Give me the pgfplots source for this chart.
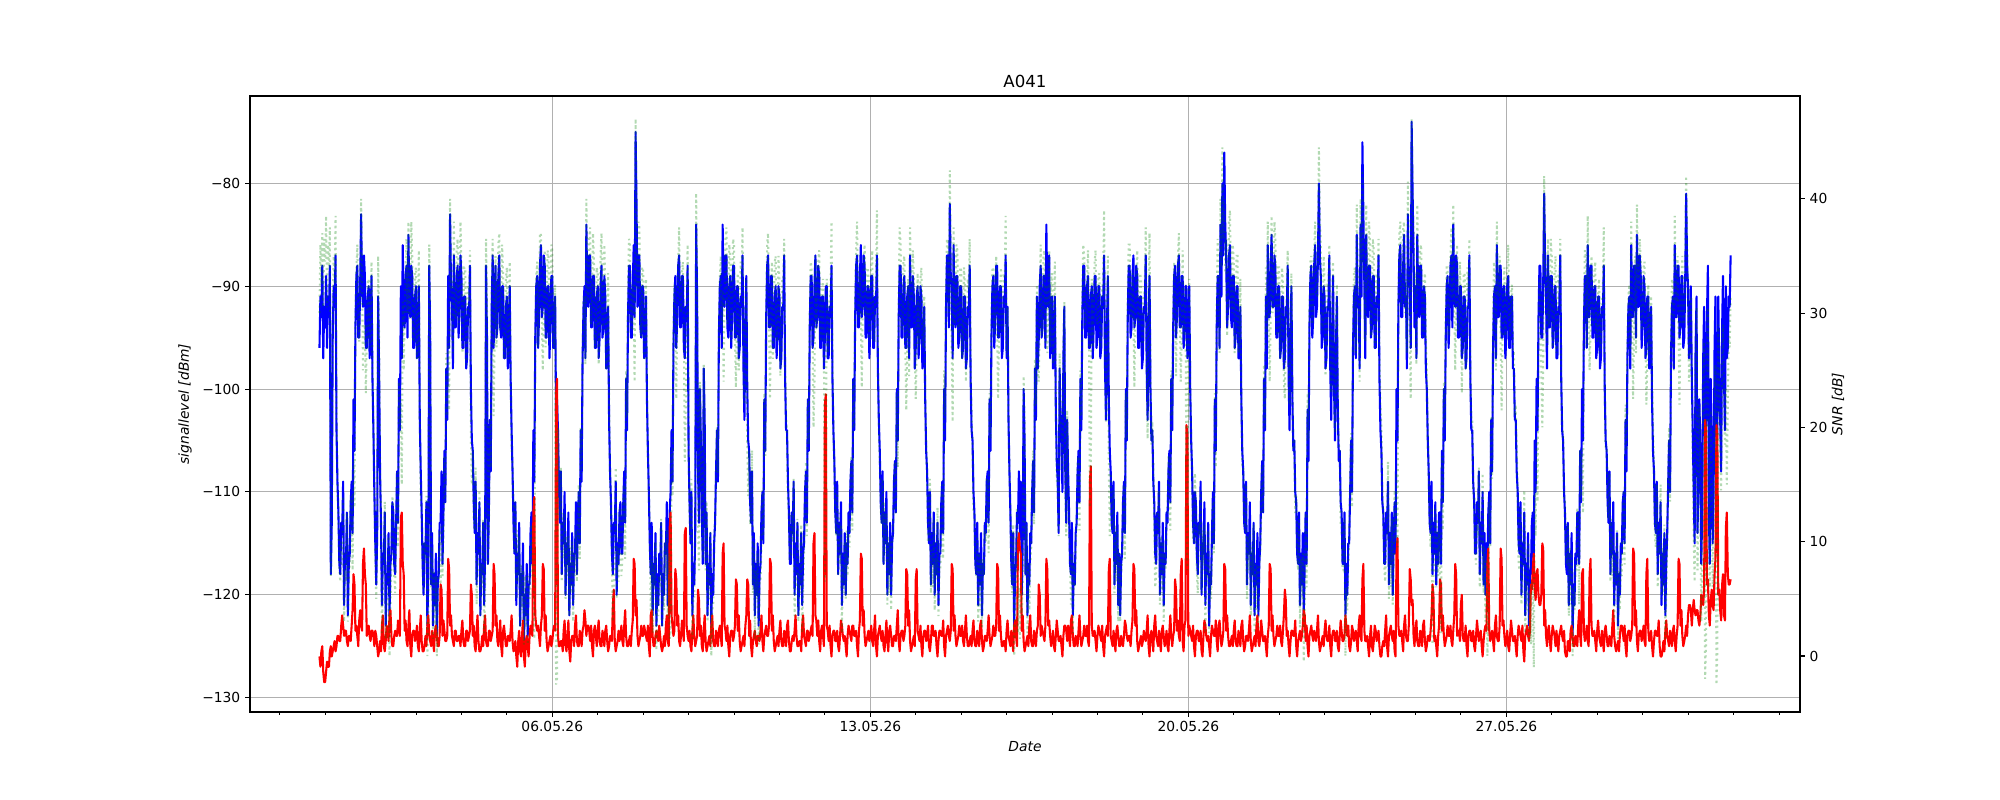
\documentclass[border=0pt]{standalone}
\usepackage{fontspec}
\setmainfont{DejaVu Sans}
\usepackage{pgfplots}
\usepackage{pgfplotstable}
\pgfplotsset{compat=1.18}
\definecolor{mplgrid}{HTML}{B0B0B0}
\definecolor{mplgreen}{rgb}{0,0.5,0}

% half-hourly samples (pairs of local extremes per hour), first sample at 0.875 (day of May); one line per day
\pgfplotstableread[row sep=\\,header=false]{
-96\\-91\\-93\\-88\\-97\\-92\\
-94\\-89\\-96\\-91\\-93\\-88\\-118\\-113\\-95\\-90\\-92\\-87\\-104\\-109\\-112\\-117\\-118\\-113\\-114\\-109\\-121\\-116\\-117\\-112\\-122\\-117\\-116\\-111\\-109\\-114\\-101\\-106\\-94\\-89\\-88\\-95\\-95\\-90\\-83\\-90\\-92\\-87\\-89\\-96\\-96\\-91\\-90\\-97\\
-94\\-89\\-99\\-104\\-110\\-115\\-119\\-114\\-91\\-98\\-108\\-113\\-121\\-116\\-117\\-112\\-123\\-118\\-119\\-114\\-122\\-117\\-116\\-111\\-112\\-117\\-118\\-113\\-108\\-113\\-99\\-104\\-90\\-97\\-86\\-93\\-94\\-89\\-88\\-95\\-85\\-92\\-93\\-88\\-89\\-96\\-96\\-91\\
-90\\-97\\-95\\-90\\-103\\-108\\-112\\-117\\-120\\-115\\-116\\-111\\-123\\-118\\-88\\-95\\-119\\-114\\-123\\-118\\-121\\-116\\-124\\-119\\-118\\-113\\-113\\-108\\-117\\-112\\-106\\-111\\-98\\-103\\-89\\-96\\-83\\-90\\-91\\-98\\-87\\-94\\-94\\-89\\-88\\-95\\-92\\-87\\
-89\\-96\\-96\\-91\\-91\\-98\\-97\\-92\\-93\\-88\\-100\\-105\\-106\\-111\\-114\\-109\\-119\\-114\\-116\\-111\\-122\\-117\\-118\\-113\\-121\\-116\\-88\\-95\\-117\\-112\\-103\\-108\\-92\\-87\\-96\\-91\\-88\\-95\\-94\\-89\\-87\\-94\\-95\\-90\\-90\\-97\\-97\\-92\\
-91\\-98\\-95\\-90\\-99\\-104\\-108\\-113\\-116\\-111\\-121\\-116\\-118\\-113\\-123\\-118\\-120\\-115\\-125\\-120\\-122\\-117\\-124\\-119\\-119\\-114\\-112\\-117\\-104\\-109\\-95\\-90\\-89\\-96\\-93\\-88\\-86\\-93\\-92\\-87\\-88\\-95\\-95\\-90\\-90\\-97\\-94\\-89\\
-89\\-96\\-96\\-91\\-103\\-101\\-104\\-109\\-113\\-108\\-118\\-113\\-115\\-110\\-120\\-115\\-117\\-112\\-122\\-117\\-119\\-114\\-121\\-116\\-116\\-111\\-118\\-113\\-110\\-115\\-104\\-109\\-97\\-92\\-90\\-97\\-84\\-91\\-92\\-87\\-87\\-94\\-94\\-89\\-89\\-96\\-96\\-91\\
-90\\-97\\-95\\-90\\-88\\-95\\-94\\-89\\-91\\-98\\-97\\-92\\-103\\-108\\-111\\-116\\-118\\-113\\-114\\-109\\-120\\-115\\-117\\-112\\-111\\-116\\-116\\-111\\-108\\-113\\-99\\-104\\-93\\-88\\-88\\-95\\-95\\-90\\-86\\-93\\-75\\-82\\-92\\-87\\-87\\-94\\-95\\-90\\
-90\\-97\\-96\\-91\\-101\\-106\\-110\\-115\\-118\\-113\\-122\\-117\\-119\\-114\\-123\\-118\\-121\\-116\\-118\\-113\\-123\\-118\\-120\\-115\\-116\\-111\\-121\\-116\\-112\\-110\\-104\\-109\\-96\\-91\\-89\\-96\\-93\\-88\\-87\\-94\\-94\\-89\\-89\\-96\\-97\\-92\\-93\\-88\\
-106\\-111\\-115\\-110\\-122\\-117\\-119\\-114\\-84\\-91\\-108\\-113\\-100\\-105\\-112\\-117\\-98\\-103\\-117\\-112\\-122\\-117\\-119\\-114\\-123\\-118\\-120\\-115\\-113\\-108\\-104\\-109\\-95\\-90\\-89\\-96\\-84\\-91\\-92\\-87\\-87\\-94\\-95\\-90\\-89\\-96\\-93\\-88\\
-88\\-95\\-95\\-90\\-90\\-97\\-96\\-91\\-92\\-87\\-98\\-103\\-94\\-89\\-100\\-105\\-106\\-111\\-113\\-108\\-119\\-114\\-122\\-117\\-120\\-115\\-123\\-118\\-117\\-112\\-110\\-115\\-101\\-106\\-93\\-88\\-87\\-94\\-94\\-89\\-89\\-96\\-96\\-91\\-90\\-97\\-95\\-90\\
-91\\-98\\-97\\-92\\-92\\-87\\-99\\-104\\-104\\-109\\-112\\-117\\-117\\-112\\-114\\-109\\-120\\-115\\-118\\-113\\-122\\-117\\-119\\-114\\-121\\-116\\-115\\-110\\-108\\-113\\-101\\-106\\-94\\-89\\-89\\-96\\-95\\-90\\-87\\-94\\-93\\-88\\-89\\-96\\-96\\-91\\-91\\-98\\
-95\\-90\\-90\\-97\\-97\\-92\\-93\\-88\\-99\\-104\\-107\\-112\\-114\\-109\\-118\\-113\\-116\\-111\\-121\\-116\\-119\\-114\\-120\\-115\\-117\\-112\\-114\\-109\\-107\\-112\\-99\\-104\\-93\\-88\\-87\\-94\\-94\\-89\\-86\\-93\\-92\\-87\\-88\\-95\\-95\\-90\\-90\\-97\\
-94\\-89\\-89\\-96\\-96\\-91\\-92\\-87\\-98\\-103\\-106\\-111\\-113\\-108\\-117\\-112\\-115\\-110\\-120\\-115\\-118\\-113\\-120\\-115\\-114\\-109\\-107\\-112\\-100\\-105\\-93\\-88\\-88\\-95\\-95\\-90\\-89\\-96\\-96\\-91\\-90\\-97\\-87\\-94\\-94\\-89\\-91\\-98\\
-96\\-91\\-90\\-97\\-95\\-90\\-91\\-98\\-97\\-92\\-101\\-106\\-108\\-113\\-115\\-110\\-119\\-114\\-117\\-112\\-120\\-115\\-118\\-113\\-121\\-116\\-116\\-111\\-109\\-114\\-100\\-105\\-92\\-87\\-87\\-94\\-82\\-89\\-90\\-97\\-86\\-93\\-94\\-89\\-89\\-96\\-95\\-90\\
-90\\-97\\-96\\-91\\-91\\-98\\-97\\-92\\-93\\-88\\-99\\-104\\-105\\-110\\-112\\-117\\-118\\-113\\-121\\-116\\-119\\-114\\-122\\-117\\-118\\-113\\-114\\-109\\-108\\-113\\-101\\-106\\-95\\-90\\-89\\-96\\-93\\-88\\-88\\-95\\-95\\-90\\-90\\-97\\-96\\-91\\-92\\-87\\
-97\\-92\\-103\\-108\\-112\\-117\\-119\\-114\\-123\\-118\\-117\\-112\\-113\\-108\\-114\\-109\\-120\\-115\\-100\\-105\\-118\\-113\\-122\\-117\\-119\\-114\\-115\\-110\\-107\\-112\\-98\\-103\\-91\\-98\\-95\\-90\\-88\\-95\\-94\\-89\\-89\\-96\\-84\\-91\\-92\\-87\\-97\\-92\\
-91\\-98\\-96\\-91\\-102\\-107\\-109\\-114\\-98\\-103\\-105\\-110\\-97\\-92\\-108\\-113\\-103\\-108\\-112\\-117\\-118\\-113\\-122\\-117\\-119\\-114\\-113\\-108\\-106\\-111\\-99\\-104\\-93\\-88\\-88\\-95\\-95\\-90\\-89\\-96\\-96\\-91\\-90\\-97\\-94\\-89\\-89\\-96\\
-95\\-90\\-90\\-97\\-96\\-91\\-92\\-87\\-98\\-103\\-94\\-89\\-101\\-106\\-108\\-113\\-114\\-109\\-119\\-114\\-117\\-112\\-121\\-116\\-122\\-117\\-116\\-111\\-109\\-114\\-100\\-105\\-93\\-88\\-88\\-95\\-94\\-89\\-87\\-94\\-93\\-88\\-89\\-96\\-96\\-91\\-91\\-98\\
-97\\-92\\-92\\-87\\-98\\-103\\-94\\-89\\-100\\-105\\-104\\-109\\-111\\-116\\-117\\-112\\-114\\-109\\-120\\-115\\-118\\-113\\-121\\-116\\-117\\-112\\-113\\-108\\-106\\-111\\-99\\-104\\-94\\-89\\-88\\-95\\-93\\-88\\-87\\-94\\-94\\-89\\-89\\-96\\-95\\-90\\-90\\-97\\
-95\\-90\\-100\\-105\\-108\\-113\\-115\\-110\\-111\\-116\\-118\\-113\\-114\\-109\\-120\\-115\\-116\\-111\\-121\\-116\\-118\\-113\\-123\\-118\\-119\\-114\\-110\\-115\\-101\\-106\\-94\\-89\\-89\\-96\\-84\\-91\\-80\\-87\\-77\\-84\\-87\\-94\\-92\\-87\\-86\\-93\\-94\\-89\\
-89\\-96\\-95\\-90\\-90\\-97\\-97\\-92\\-101\\-106\\-108\\-113\\-114\\-109\\-119\\-114\\-116\\-111\\-121\\-116\\-118\\-113\\-122\\-117\\-119\\-114\\-122\\-117\\-115\\-110\\-107\\-112\\-99\\-104\\-91\\-98\\-86\\-93\\-93\\-88\\-85\\-92\\-92\\-87\\-88\\-95\\-95\\-90\\
-90\\-97\\-96\\-91\\-91\\-98\\-97\\-92\\-93\\-88\\-99\\-104\\-95\\-90\\-101\\-106\\-105\\-110\\-111\\-116\\-117\\-112\\-121\\-116\\-119\\-114\\-122\\-117\\-112\\-117\\-102\\-107\\-94\\-89\\-88\\-95\\-93\\-88\\-86\\-93\\-92\\-87\\-80\\-87\\-89\\-96\\-95\\-90\\
-91\\-98\\-97\\-92\\-92\\-87\\-98\\-103\\-94\\-89\\-100\\-105\\-96\\-91\\-102\\-107\\-106\\-111\\-112\\-117\\-117\\-112\\-122\\-117\\-120\\-115\\-115\\-110\\-105\\-110\\-96\\-91\\-90\\-97\\-85\\-92\\-91\\-98\\-84\\-91\\-76\\-83\\-90\\-97\\-85\\-92\\-93\\-88\\
-88\\-95\\-94\\-89\\-89\\-96\\-96\\-91\\-92\\-87\\-99\\-104\\-106\\-111\\-112\\-117\\-117\\-112\\-114\\-109\\-119\\-114\\-117\\-112\\-120\\-115\\-111\\-116\\-100\\-105\\-92\\-87\\-86\\-93\\-93\\-88\\-85\\-92\\-91\\-98\\-83\\-90\\-89\\-96\\-74\\-81\\-87\\-94\\
-90\\-97\\-85\\-92\\-93\\-88\\-88\\-95\\-95\\-90\\-91\\-98\\-100\\-105\\-108\\-113\\-114\\-109\\-118\\-113\\-116\\-111\\-119\\-114\\-117\\-112\\-112\\-117\\-106\\-111\\-100\\-105\\-95\\-90\\-89\\-96\\-93\\-88\\-87\\-94\\-84\\-91\\-92\\-87\\-88\\-95\\-95\\-90\\
-90\\-97\\-96\\-91\\-91\\-98\\-97\\-92\\-92\\-87\\-99\\-104\\-104\\-109\\-111\\-116\\-116\\-111\\-113\\-108\\-118\\-113\\-115\\-110\\-119\\-114\\-120\\-115\\-117\\-112\\-110\\-115\\-103\\-108\\-96\\-91\\-90\\-97\\-86\\-93\\-93\\-88\\-88\\-95\\-95\\-90\\-90\\-97\\
-95\\-90\\-89\\-96\\-96\\-91\\-91\\-98\\-98\\-103\\-103\\-108\\-110\\-115\\-116\\-111\\-120\\-115\\-117\\-112\\-122\\-117\\-119\\-114\\-123\\-118\\-118\\-113\\-112\\-117\\-105\\-110\\-99\\-104\\-93\\-88\\-88\\-95\\-95\\-90\\-81\\-88\\-91\\-98\\-87\\-94\\-94\\-89\\
-89\\-96\\-95\\-90\\-90\\-97\\-97\\-92\\-92\\-87\\-99\\-104\\-105\\-110\\-112\\-117\\-118\\-113\\-121\\-116\\-119\\-114\\-124\\-119\\-121\\-116\\-117\\-112\\-112\\-117\\-106\\-111\\-100\\-105\\-94\\-89\\-89\\-96\\-86\\-93\\-93\\-88\\-88\\-95\\-95\\-90\\-90\\-97\\
-96\\-91\\-91\\-98\\-97\\-92\\-93\\-88\\-100\\-105\\-106\\-111\\-113\\-108\\-118\\-113\\-116\\-111\\-121\\-116\\-119\\-114\\-123\\-118\\-120\\-115\\-116\\-111\\-110\\-115\\-103\\-108\\-97\\-92\\-91\\-98\\-86\\-93\\-93\\-88\\-88\\-95\\-85\\-92\\-92\\-87\\-89\\-96\\
-94\\-89\\-90\\-97\\-96\\-91\\-91\\-98\\-97\\-92\\-101\\-106\\-108\\-113\\-114\\-109\\-118\\-113\\-116\\-111\\-121\\-116\\-119\\-114\\-122\\-117\\-114\\-109\\-105\\-110\\-97\\-92\\-91\\-98\\-86\\-93\\-93\\-88\\-88\\-95\\-94\\-89\\-89\\-96\\-95\\-90\\-81\\-88\\
-90\\-97\\-95\\-90\\-99\\-104\\-110\\-115\\-96\\-91\\-114\\-109\\-101\\-106\\-117\\-112\\-97\\-92\\-105\\-103\\-93\\-88\\-112\\-117\\-99\\-104\\-115\\-110\\-96\\-91\\-106\\-104\\-91\\-98\\-103\\-108\\-94\\-89\\-99\\-104\\-90\\-97\\-96\\-91\\-92\\-87\\
}\sig

\pgfplotstableread[row sep=\\,header=false]{
-126\\-127\\-125.5\\-125\\-127.5\\-128.5\\
-128.5\\-127.5\\-126.5\\-127\\-127\\-125.5\\-125\\-126\\-125.5\\-125\\-124.5\\-125.5\\-125\\-124\\-124\\-124.5\\-124.5\\-123\\-122\\-123\\-124\\-123.5\\-123.5\\-124.5\\-125\\-124\\-124\\-124.5\\-123\\-121.5\\-118\\-119\\-123.5\\-123\\-124\\-125\\-122.5\\-121.5\\-123\\-123.5\\-117\\-115.5\\-118\\-119\\-124\\-123.5\\-123\\-124\\
-124.5\\-123.5\\-123.5\\-124\\-125\\-123.5\\-124\\-125\\-126\\-125.5\\-124.5\\-125.5\\-123\\-122\\-125\\-125.5\\-124.5\\-123\\-123.5\\-124.5\\-122\\-121.5\\-124\\-125\\-125\\-124\\-123.5\\-124\\-124\\-122.5\\-123\\-124\\-112.5\\-112\\-117\\-118\\-123.5\\-122.5\\-124.5\\-125\\-123\\-121.5\\-125\\-126\\-124\\-123.5\\-123.5\\-124.5\\
-124\\-123\\-125\\-125.5\\-123.5\\-122\\-124.5\\-125.5\\-125.5\\-125\\-124\\-125\\-123\\-122\\-124\\-124.5\\-125\\-123.5\\-124.5\\-125.5\\-123.5\\-123\\-124\\-125\\-125\\-124\\-119\\-119.5\\-124\\-122.5\\-123.5\\-124.5\\-124.5\\-124\\-116.5\\-117.5\\-123\\-122\\-124\\-124.5\\-125\\-123.5\\-123.5\\-124.5\\-124.5\\-124\\-124\\-125\\
-123.5\\-122.5\\-124.5\\-125\\-125\\-123.5\\-123.5\\-124.5\\-124\\-123.5\\-119\\-120\\-124\\-123\\-125\\-125.5\\-123.5\\-122\\-124.5\\-125.5\\-125.5\\-125\\-124\\-125\\-123\\-122\\-124.5\\-125\\-125\\-123.5\\-123.5\\-124.5\\-124\\-123.5\\-117\\-118\\-123\\-122\\-124.5\\-125\\-124\\-122.5\\-125\\-126\\-123.5\\-123\\-124\\-125\\
-125\\-124\\-124\\-124.5\\-123.5\\-122\\-124.5\\-125.5\\-125\\-124.5\\-126\\-127\\-124.5\\-123.5\\-125.5\\-126\\-124\\-122.5\\-126\\-127\\-124.5\\-124\\-125\\-126\\-124\\-123\\-123.5\\-124\\-112\\-110.5\\-122\\-123\\-123.5\\-123\\-124\\-125\\-123\\-122\\-117\\-117.5\\-123.5\\-122\\-124.5\\-125.5\\-125\\-124.5\\-124\\-125\\
-124.5\\-123.5\\-123\\-123.5\\-100.5\\-99\\-124\\-125\\-125\\-124.5\\-124.5\\-125.5\\-123.5\\-122.5\\-125\\-125.5\\-124\\-122.5\\-125.5\\-126.5\\-124.5\\-124\\-124\\-125\\-123\\-122\\-124.5\\-125\\-125\\-123.5\\-124\\-125\\-123.5\\-123\\-121.5\\-122.5\\-124\\-123\\-123\\-123.5\\-124.5\\-123\\-125\\-126\\-123.5\\-123\\-124\\-125\\
-123.5\\-122.5\\-124.5\\-125\\-125\\-123.5\\-124\\-125\\-123.5\\-123\\-124.5\\-125.5\\-125\\-124\\-124\\-124.5\\-121\\-119.5\\-124.5\\-125.5\\-125\\-124.5\\-123.5\\-124.5\\-124\\-123\\-124.5\\-125\\-123\\-121.5\\-124\\-125\\-125\\-124.5\\-124\\-125\\-123.5\\-122.5\\-116.5\\-117\\-122\\-120.5\\-124\\-125\\-124.5\\-124\\-123\\-124\\
-124\\-123\\-123.5\\-124\\-124.5\\-123\\-125\\-126\\-122\\-121.5\\-124\\-125\\-125\\-124\\-123.5\\-124\\-124.5\\-123\\-124\\-125\\-125.5\\-125\\-124\\-125\\-123\\-122\\-124.5\\-125\\-113.5\\-112\\-122\\-123\\-124\\-123.5\\-117.5\\-118.5\\-123\\-122\\-124.5\\-125\\-124\\-122.5\\-123.5\\-124.5\\-114\\-113.5\\-123\\-124\\
-124.5\\-123.5\\-125\\-125.5\\-123.5\\-122\\-124\\-125\\-124.5\\-124\\-119.5\\-120.5\\-124\\-123\\-125\\-125.5\\-123.5\\-122\\-124.5\\-125.5\\-125\\-124.5\\-124\\-125\\-123\\-122\\-124.5\\-125\\-125\\-123.5\\-124\\-125\\-123.5\\-123\\-124\\-125\\-116\\-115\\-123\\-123.5\\-124.5\\-123\\-125\\-126\\-124\\-123.5\\-123.5\\-124.5\\
-124\\-123\\-118.5\\-119\\-123.5\\-122\\-124.5\\-125.5\\-125\\-124.5\\-124\\-125\\-123\\-122\\-118.5\\-119\\-124\\-122.5\\-125\\-126\\-124.5\\-124\\-123.5\\-124.5\\-125\\-124\\-124\\-124.5\\-123.5\\-122\\-124.5\\-125.5\\-124\\-123.5\\-123\\-124\\-124\\-123\\-116.5\\-117\\-123.5\\-122\\-124.5\\-125.5\\-125\\-124.5\\-124\\-125\\
-123.5\\-122.5\\-124.5\\-125\\-125\\-123.5\\-124\\-125\\-123\\-122.5\\-124.5\\-125.5\\-125.5\\-124.5\\-124\\-124.5\\-123.5\\-122\\-124\\-125\\-125\\-124.5\\-124.5\\-125.5\\-123\\-122\\-124\\-124.5\\-125\\-123.5\\-123.5\\-124.5\\-124\\-123.5\\-123\\-124\\-115\\-114\\-122\\-122.5\\-124\\-122.5\\-124.5\\-125.5\\-123.5\\-123\\-124\\-125\\
-101.5\\-100.5\\-123\\-123.5\\-124.5\\-123\\-125\\-126\\-124\\-123.5\\-123.5\\-124.5\\-124.5\\-123.5\\-125\\-125.5\\-124\\-122.5\\-123\\-124\\-124.5\\-124\\-125\\-126\\-124\\-123\\-123.5\\-124\\-124.5\\-123\\-123\\-124\\-124\\-123.5\\-125\\-126\\-123.5\\-122.5\\-116\\-116.5\\-123\\-121.5\\-124\\-125\\-124.5\\-124\\-123.5\\-124.5\\
-124\\-123\\-124.5\\-125\\-123.5\\-122\\-125\\-126\\-124\\-123.5\\-123\\-124\\-124.5\\-123.5\\-125\\-125.5\\-124\\-122.5\\-124.5\\-125.5\\-123.5\\-123\\-124\\-125\\-125\\-124\\-124\\-124.5\\-123\\-121.5\\-124.5\\-125.5\\-124\\-123.5\\-123.5\\-124.5\\-124\\-123\\-117.5\\-118\\-123\\-121.5\\-124.5\\-125.5\\-125\\-124.5\\-124\\-125\\
-118.5\\-117.5\\-123.5\\-124\\-124.5\\-123\\-125\\-126\\-124\\-123.5\\-123.5\\-124.5\\-124\\-123\\-125\\-125.5\\-124.5\\-123\\-123\\-124\\-124\\-123.5\\-125\\-126\\-124.5\\-123.5\\-123.5\\-124\\-124\\-122.5\\-125\\-126\\-124\\-123.5\\-123\\-124\\-124.5\\-123.5\\-117\\-117.5\\-123.5\\-122\\-124\\-125\\-124.5\\-124\\-123\\-124\\
-124\\-123\\-124.5\\-125\\-123.5\\-122\\-124\\-125\\-125\\-124.5\\-124\\-125\\-123.5\\-122.5\\-124.5\\-125\\-125\\-123.5\\-124\\-125\\-123\\-122.5\\-124.5\\-125.5\\-125\\-124\\-124\\-124.5\\-123.5\\-122\\-124\\-125\\-124.5\\-124\\-123\\-124\\-124\\-123\\-117\\-117.5\\-123.5\\-122\\-124\\-125\\-125\\-124.5\\-124.5\\-125.5\\
-123.5\\-122.5\\-124\\-124.5\\-125\\-123.5\\-124.5\\-125.5\\-123\\-122.5\\-124\\-125\\-115\\-114\\-115.5\\-116\\-123.5\\-122\\-124.5\\-125.5\\-125\\-124.5\\-124\\-125\\-123\\-122\\-124.5\\-125\\-125\\-123.5\\-124\\-125\\-123.5\\-123\\-119\\-120\\-124\\-123\\-123.5\\-124\\-124.5\\-123\\-116.5\\-117.5\\-123\\-122.5\\-124\\-125\\
-124.5\\-123.5\\-125\\-125.5\\-124\\-122.5\\-123.5\\-124.5\\-124.5\\-124\\-125\\-126\\-124\\-123\\-123\\-123.5\\-124.5\\-123\\-124\\-125\\-122.5\\-122\\-124\\-125\\-125\\-124\\-124.5\\-125\\-123.5\\-122\\-124\\-125\\-124.5\\-124\\-123\\-124\\-124\\-123\\-124.5\\-125\\-109\\-107.5\\-123\\-124\\-124\\-123.5\\-124.5\\-125.5\\
-124\\-123\\-123.5\\-124\\-124.5\\-123\\-125\\-126\\-124\\-123.5\\-123\\-124\\-117.5\\-116.5\\-124\\-124.5\\-125\\-123.5\\-124.5\\-125.5\\-123.5\\-123\\-124\\-125\\-125\\-124\\-124.5\\-125\\-124\\-122.5\\-123\\-124\\-124.5\\-124\\-124\\-125\\-123.5\\-122.5\\-117\\-117.5\\-123\\-121.5\\-124.5\\-125.5\\-125\\-124.5\\-124\\-125\\
-124.5\\-123.5\\-124\\-124.5\\-123.5\\-122\\-125\\-126\\-124\\-123.5\\-124.5\\-125.5\\-123\\-122\\-124\\-124.5\\-125\\-123.5\\-124.5\\-125.5\\-123.5\\-123\\-124\\-125\\-124.5\\-123.5\\-125\\-125.5\\-123.5\\-122\\-124\\-125\\-124\\-123.5\\-118.5\\-119.5\\-123.5\\-122.5\\-124\\-124.5\\-118\\-116.5\\-124.5\\-125.5\\-123\\-122.5\\-103.5\\-104.5\\
-124\\-123\\-123.5\\-124\\-124.5\\-123\\-125\\-126\\-124\\-123.5\\-123.5\\-124.5\\-124.5\\-123.5\\-125.5\\-126\\-124\\-122.5\\-123\\-124\\-124.5\\-124\\-125\\-126\\-124\\-123\\-123.5\\-124\\-124\\-122.5\\-124.5\\-125.5\\-123\\-122.5\\-124\\-125\\-124.5\\-123.5\\-117\\-117.5\\-123.5\\-122\\-124\\-125\\-125\\-124.5\\-124\\-125\\
-123.5\\-122.5\\-124.5\\-125\\-125\\-123.5\\-124\\-125\\-123\\-122.5\\-124.5\\-125.5\\-125\\-124\\-124\\-124.5\\-123.5\\-122\\-124.5\\-125.5\\-125\\-124.5\\-124\\-125\\-123\\-122\\-124.5\\-125\\-124\\-122.5\\-123.5\\-124.5\\-124.5\\-124\\-125\\-126\\-124\\-123\\-117\\-117.5\\-123.5\\-122\\-124\\-125\\-124.5\\-124\\-123\\-124\\
-124\\-123\\-124.5\\-125\\-123.5\\-122\\-119.5\\-120.5\\-124\\-123.5\\-125\\-126\\-124.5\\-123.5\\-123.5\\-124\\-124\\-122.5\\-125\\-126\\-124.5\\-124\\-123.5\\-124.5\\-124\\-123\\-121.5\\-122\\-124.5\\-123\\-125\\-126\\-124\\-123.5\\-123\\-124\\-124.5\\-123.5\\-124\\-124.5\\-123.5\\-122\\-124.5\\-125.5\\-125\\-124.5\\-124\\-125\\
-123.5\\-122.5\\-124\\-124.5\\-124.5\\-123\\-125\\-126\\-124\\-123.5\\-123.5\\-124.5\\-124.5\\-123.5\\-125\\-125.5\\-124\\-122.5\\-123.5\\-124.5\\-124.5\\-124\\-122\\-123\\-124\\-123\\-125\\-125.5\\-124.5\\-123\\-123.5\\-124.5\\-124\\-123.5\\-124.5\\-125.5\\-123\\-122\\-124\\-124.5\\-118.5\\-117\\-123.5\\-124.5\\-124.5\\-124\\-125\\-126\\
-124\\-123\\-125\\-125.5\\-124.5\\-123\\-123.5\\-124.5\\-124\\-123.5\\-125\\-126\\-126\\-125\\-124.5\\-125\\-123.5\\-122\\-125\\-126\\-124\\-123.5\\-123\\-124\\-124.5\\-123.5\\-125.5\\-126\\-116\\-114.5\\-123\\-124\\-124\\-123.5\\-124.5\\-125.5\\-123\\-122\\-124\\-124.5\\-124.5\\-123\\-117.5\\-118.5\\-121\\-120.5\\-124\\-125\\
-123.5\\-122.5\\-124.5\\-125\\-125\\-123.5\\-124\\-125\\-123\\-122.5\\-124.5\\-125.5\\-125\\-124\\-124\\-124.5\\-123.5\\-122\\-119\\-120\\-124.5\\-124\\-125\\-126\\-124\\-123\\-118.5\\-119\\-123.5\\-122\\-124\\-125\\-124.5\\-124\\-123\\-124\\-124\\-123\\-124.5\\-125\\-123.5\\-122\\-117\\-118\\-124\\-123.5\\-123.5\\-124.5\\
-121\\-120\\-124\\-124.5\\-124.5\\-123\\-125\\-126\\-124\\-123.5\\-123.5\\-124.5\\-124.5\\-123.5\\-125\\-125.5\\-124\\-122.5\\-123.5\\-124.5\\-124\\-123.5\\-125\\-126\\-124.5\\-123.5\\-123\\-123.5\\-117\\-115.5\\-123.5\\-124.5\\-124\\-123.5\\-124.5\\-125.5\\-123\\-122\\-124\\-124.5\\-124.5\\-123\\-115.5\\-116.5\\-123\\-122.5\\-124\\-125\\
-124.5\\-123.5\\-125\\-125.5\\-124\\-122.5\\-123.5\\-124.5\\-124.5\\-124\\-125\\-126\\-124\\-123\\-123.5\\-124\\-124.5\\-123\\-125.5\\-126.5\\-124\\-123.5\\-123\\-124\\-124.5\\-123.5\\-119\\-119.5\\-117.5\\-116\\-119.5\\-120.5\\-118\\-117.5\\-120\\-121\\-121\\-120\\-115\\-115.5\\-123\\-121.5\\-124\\-125\\-123.5\\-123\\-124.5\\-125.5\\
-124\\-123\\-123.5\\-124\\-125\\-123.5\\-124.5\\-125.5\\-124\\-123.5\\-123\\-124\\-124.5\\-123.5\\-125.5\\-126\\-126\\-124.5\\-124.5\\-125.5\\-123.5\\-123\\-124\\-125\\-125\\-124\\-124.5\\-125\\-123\\-121.5\\-124\\-125\\-118\\-117.5\\-123.5\\-124.5\\-124\\-123\\-124.5\\-125\\-118\\-116.5\\-123\\-124\\-124\\-123.5\\-124.5\\-125.5\\
-123.5\\-122.5\\-124\\-124.5\\-125\\-123.5\\-124.5\\-125.5\\-123.5\\-123\\-124\\-125\\-125\\-124\\-124.5\\-125\\-123\\-121.5\\-124\\-125\\-125.5\\-125\\-124.5\\-125.5\\-124\\-123\\-123\\-123.5\\-124.5\\-123\\-125\\-126\\-124\\-123.5\\-123.5\\-124.5\\-124\\-123\\-115.5\\-116\\-123\\-121.5\\-124.5\\-125.5\\-124\\-123.5\\-123.5\\-124.5\\
-124\\-123\\-124.5\\-125\\-118\\-116.5\\-123.5\\-124.5\\-124\\-123.5\\-125\\-126\\-124.5\\-123.5\\-123.5\\-124\\-124\\-122.5\\-125\\-126\\-126\\-125.5\\-124.5\\-125.5\\-123.5\\-122.5\\-124\\-124.5\\-125\\-123.5\\-124\\-125\\-123.5\\-123\\-124.5\\-125.5\\-124\\-123\\-116.5\\-117\\-123\\-121.5\\-124\\-125\\-124.5\\-124\\-123\\-124\\
-122\\-121\\-121\\-121.5\\-123\\-121.5\\-120.5\\-121.5\\-122\\-121.5\\-121.5\\-122.5\\-123\\-122\\-120\\-120.5\\-121\\-119.5\\-103\\-104\\-119\\-118.5\\-122\\-123\\-120.5\\-119.5\\-121\\-121.5\\-118\\-116.5\\-103.5\\-104.5\\-120\\-119.5\\-121.5\\-122.5\\-119\\-118\\-122\\-122.5\\-113.5\\-112\\-118\\-119\\-119\\-118.5\\
}\noi

\pgfplotstableread[row sep=\\,header=false]{
30\\36\\32.5\\37\\30.5\\36.5\\
34.5\\38.5\\30.5\\36\\34\\37.5\\7\\13\\30.5\\35\\32.5\\38.5\\21\\15\\12\\7.5\\6.5\\10\\8\\14\\3\\7.5\\6.5\\12.5\\3\\7\\8\\13.5\\14\\7.5\\17\\13\\29.5\\34\\36\\30\\27.5\\31.5\\40\\33.5\\25\\28.5\\29\\23\\28\\32.5\\33\\27\\
30.5\\34.5\\24.5\\20\\15\\8.5\\5\\11\\35\\27.5\\16.5\\12.5\\2\\6\\8\\13.5\\1.5\\5\\4.5\\10.5\\0\\4.5\\8\\14\\13\\7\\5.5\\11\\16\\9.5\\24\\20\\22.5\\15\\31\\25\\29.5\\33.5\\36.5\\30\\38\\29.5\\32\\38\\35\\27.5\\27.5\\33.5\\
34\\26\\30\\35.5\\20.5\\14\\12.5\\8.5\\5.5\\10\\8\\14\\0\\4\\36\\29.5\\6\\9.5\\1.5\\7.5\\2.5\\7\\0\\6\\7\\11\\6\\11.5\\7\\10.5\\17.5\\13.5\\26.5\\21\\27.5\\21.5\\40\\32\\33\\26.5\\38\\29.5\\29.5\\35.5\\36.5\\29\\32\\38\\
34.5\\26.5\\28.5\\34\\34\\25.5\\26.5\\32.5\\31\\35.5\\19\\15\\18\\12\\11\\16.5\\4.5\\8\\8.5\\14.5\\3.5\\8\\6\\12\\2\\6\\36.5\\30\\8\\11.5\\20.5\\16.5\\32\\36.5\\21\\27\\35\\27\\30.5\\36\\37\\28.5\\30\\36\\33.5\\26\\27\\33\\
34\\26\\29\\34.5\\24.5\\18\\16.5\\12.5\\9\\13.5\\5\\11\\6.5\\10.5\\2.5\\8\\4\\7.5\\1\\7\\2.5\\7\\1\\7\\5\\9\\11.5\\7\\8\\1.5\\27\\33\\34.5\\27\\31\\37\\37\\29\\25\\30.5\\35.5\\27\\29.5\\35.5\\35\\27.5\\30\\36\\
35.5\\27.5\\27\\32.5\\-2.5\\-2\\20\\16\\12\\16.5\\6.5\\12.5\\8.5\\12.5\\5\\10.5\\7\\10.5\\3.5\\9.5\\5.5\\10\\3\\9\\7\\11\\6.5\\12\\15\\8.5\\20\\16\\26.5\\31\\31.5\\25.5\\40\\32\\31\\36.5\\37.5\\29\\31\\37\\34.5\\27\\28\\34\\
33.5\\25.5\\29.5\\35\\37\\28.5\\30\\36\\32.5\\25\\27.5\\33.5\\22\\16\\13\\8.5\\3\\6.5\\10.5\\16.5\\5\\9.5\\6.5\\12.5\\13\\7\\8.5\\14\\15\\8.5\\25\\21\\32\\36.5\\36\\30\\28.5\\32.5\\30.5\\24\\47\\38.5\\32\\38\\37.5\\30\\28\\34\\
34\\26\\27.5\\33\\23.5\\17\\15\\11\\4\\8.5\\2\\8\\6\\10\\0.5\\6\\3.5\\7\\6\\12\\2.5\\7\\4\\10\\7\\11\\3.5\\9\\1.5\\2\\18\\14\\28\\32.5\\28.5\\22.5\\30\\34\\37.5\\31\\30\\33.5\\34.5\\28.5\\17\\21.5\\30\\36\\
18.5\\12.5\\10\\15.5\\1.5\\5\\5\\11\\40.5\\33\\11.5\\7.5\\24\\18\\13\\8.5\\25.5\\19\\7.5\\13.5\\3\\7.5\\5\\11\\0\\4\\4.5\\10\\12\\15.5\\20\\16\\28.5\\33\\35\\29\\32\\24\\31\\36.5\\37.5\\29\\30\\36\\35\\27.5\\30.5\\36.5\\
36\\28\\23.5\\29\\33.5\\25\\28.5\\34.5\\33\\37.5\\26\\22\\29\\33\\18.5\\14\\18\\11.5\\12\\18\\5.5\\10\\1.5\\7.5\\5\\9\\1\\6.5\\6.5\\10\\14.5\\10.5\\23\\17.5\\30\\36\\37\\29\\22.5\\28\\34.5\\26\\28.5\\34.5\\35\\27.5\\29\\35\\
32.5\\24.5\\27.5\\33\\33\\36.5\\25\\21\\19\\13.5\\12.5\\8.5\\8.5\\12.5\\10\\15.5\\3.5\\7\\6\\12\\3\\7.5\\5.5\\11.5\\2\\6\\9\\14.5\\17\\10.5\\22.5\\18.5\\30\\34.5\\34\\28\\20\\24\\35\\28.5\\31\\34.5\\35.5\\29.5\\27.5\\32\\33\\27\\
6.5\\10.5\\33\\26.5\\27.5\\31\\32\\38\\25\\19.5\\16.5\\12.5\\10.5\\14.5\\7\\12.5\\8\\11.5\\2\\8\\5.5\\10\\5\\11\\7\\11\\9.5\\15\\17.5\\11\\24\\20\\31\\35.5\\38\\32\\29.5\\33.5\\30\\23.5\\31\\34.5\\36\\30\\29.5\\34\\33.5\\27.5\\
30\\34\\35.5\\29\\27.5\\31\\33\\39\\26\\20.5\\17\\13\\11.5\\15.5\\8\\13.5\\9\\12.5\\4.5\\10.5\\5.5\\10\\4\\10\\11\\15\\17\\12.5\\23\\16.5\\31.5\\37.5\\36\\28.5\\28.5\\34.5\\35\\27\\21.5\\27\\33\\24.5\\37.5\\31.5\\31\\35.5\\33\\27\\
22.5\\26.5\\33.5\\27\\29.5\\33\\34\\28\\27\\31.5\\22.5\\18.5\\16\\10\\10\\15.5\\5.5\\9\\6\\12\\4\\8.5\\7\\13\\3.5\\7.5\\7.5\\13\\15\\8.5\\25\\21\\32\\36.5\\36\\30\\42.5\\34.5\\27\\20.5\\37.5\\29\\30\\36\\35.5\\28\\28\\34\\
34\\26\\28.5\\34\\32.5\\24\\27\\33\\32\\36.5\\25\\21\\18.5\\12.5\\12.5\\8\\7\\10.5\\3\\9\\4\\8.5\\2.5\\8.5\\7\\11\\10\\15.5\\15.5\\9\\23\\19\\29.5\\34\\34\\28\\31\\35\\29\\22.5\\28.5\\32\\34\\28\\29\\33.5\\32.5\\38.5\\
26.5\\30.5\\21\\16.5\\13\\6.5\\5.5\\11.5\\0\\4.5\\7\\13\\2\\6\\1.5\\7\\3.5\\7\\24.5\\20.5\\7\\11.5\\2\\8\\4\\8\\9.5\\15\\18\\11.5\\26\\22\\32.5\\25\\24\\30\\36\\28\\29.5\\35\\35.5\\27\\32.5\\26.5\\31\\35.5\\27\\33\\
33.5\\25.5\\29\\34.5\\22\\15.5\\14.5\\10.5\\26.5\\21\\20\\16\\27\\31\\15\\10.5\\21.5\\15\\12\\8\\4.5\\9\\2\\8\\6\\10\\11.5\\17\\17.5\\11\\25\\21\\31.5\\36\\35\\29\\29\\33\\35.5\\29\\13\\16.5\\33\\27\\30\\34.5\\35.5\\29.5\\
29\\33\\33.5\\27\\28.5\\32\\33\\39\\26\\20.5\\29\\35\\16.5\\10.5\\16\\11.5\\11\\14.5\\5.5\\11.5\\6.5\\11\\3\\9\\3\\7\\8.5\\14\\15\\8.5\\23\\19\\31.5\\36\\36\\30\\29.5\\33.5\\30\\23.5\\30\\33.5\\35.5\\29.5\\29\\33.5\\33\\27\\
27.5\\31.5\\32\\37.5\\25.5\\19\\31\\37\\24\\18.5\\20.5\\16.5\\12\\6\\7\\12.5\\11\\14.5\\4.5\\10.5\\5.5\\10\\3\\9\\7.5\\11.5\\12\\17.5\\17.5\\11\\25\\21\\30\\34.5\\30.5\\24.5\\30.5\\34.5\\37\\30.5\\24\\27.5\\35.5\\29.5\\28\\32.5\\13.5\\7.5\\
29\\33\\23.5\\19\\16.5\\10\\10\\16\\13\\7.5\\5.5\\11.5\\10.5\\14.5\\5.5\\11\\8\\11.5\\2\\8\\6.5\\11\\2\\8\\5\\9\\13.5\\9\\23\\16.5\\30.5\\36.5\\34\\26.5\\40\\34\\44.5\\36.5\\40\\33.5\\36.5\\28\\32\\38\\39\\31.5\\30\\36\\
34.5\\26.5\\29.5\\35\\35\\26.5\\27\\33\\22\\16.5\\16.5\\12.5\\11\\15\\5\\10.5\\7.5\\11\\3.5\\9.5\\7\\11.5\\2\\8\\4\\8\\2.5\\8\\9\\12.5\\16.5\\12.5\\25.5\\20\\34\\28\\38\\30\\24\\29.5\\38.5\\30\\32\\38\\36.5\\29\\28\\34\\
34\\26\\28.5\\34\\32.5\\24\\22.5\\28.5\\31\\35.5\\26\\22\\29.5\\33.5\\22.5\\18\\19\\12.5\\14\\10\\7.5\\12\\2.5\\8.5\\5\\9\\-0.5\\5\\12.5\\6\\23\\19\\30\\34.5\\35\\29\\31.5\\35.5\\38\\31.5\\31.5\\35\\44.5\\38.5\\36\\28.5\\29\\35\\
32.5\\24.5\\27\\32.5\\32.5\\36\\27\\23\\30\\34.5\\23.5\\19.5\\28.5\\32.5\\23\\18.5\\18\\11.5\\11.5\\7.5\\7.5\\12\\0\\6\\4\\8\\10\\15.5\\19.5\\13\\27.5\\33.5\\34\\26.5\\39.5\\33.5\\32\\24\\40\\33.5\\42.5\\34\\33.5\\27.5\\39.5\\32\\32\\38\\
36\\28\\31\\36.5\\35.5\\27\\27.5\\33.5\\32\\36.5\\26\\22\\20\\14\\12.5\\8\\6.5\\10\\11\\17\\5\\9.5\\6\\12\\4.5\\8.5\\14.5\\10\\16\\9.5\\31\\37\\38\\30.5\\31.5\\37.5\\38\\30\\33\\26.5\\41.5\\33\\28.5\\22.5\\47\\39.5\\37\\31\\
33.5\\25.5\\39.5\\33\\32\\35.5\\36\\30\\28\\32.5\\33.5\\27.5\\25\\19\\16\\11.5\\9.5\\13\\1\\7\\8.5\\13\\6\\12\\7\\11\\6.5\\2\\17.5\\11\\24\\20\\29.5\\34\\34\\28\\31\\35\\37.5\\31\\39.5\\31\\25\\31\\36\\28.5\\28.5\\34.5\\
31\\23\\28\\33.5\\33.5\\25\\28\\34\\32\\36.5\\24.5\\20.5\\20.5\\14.5\\14\\9.5\\8\\11.5\\10.5\\16.5\\6\\10.5\\10\\16\\5.5\\9.5\\3\\8.5\\0\\3.5\\13.5\\9.5\\21\\15.5\\28.5\\34.5\\33\\25\\38\\31.5\\31.5\\35\\27.5\\21.5\\28\\32.5\\34\\28\\
29.5\\33.5\\36\\29.5\\28\\31.5\\32.5\\26.5\\26.5\\21\\22\\18\\14\\8\\7.5\\13\\4.5\\8\\8.5\\14.5\\2\\6.5\\4\\10\\1.5\\5.5\\1\\6.5\\5.5\\-1\\14.5\\10.5\\19\\13.5\\27\\33\\33\\25\\20\\25.5\\42\\33.5\\33\\27\\36.5\\29\\30.5\\36.5\\
35\\27\\28.5\\34\\35\\26.5\\27.5\\33.5\\32\\36.5\\24\\20\\19.5\\13.5\\13.5\\9\\8\\11.5\\3.5\\9.5\\4.5\\9\\0\\6\\4\\8\\7.5\\13\\11\\4.5\\18\\14\\18\\12.5\\29.5\\35.5\\35\\27\\38.5\\32\\25\\28.5\\35\\29\\29\\33.5\\34.5\\28.5\\
27.5\\31.5\\33\\26.5\\28\\31.5\\31.5\\37.5\\23.5\\18\\18\\14\\12\\16\\6.5\\12\\7\\10.5\\3\\9\\6.5\\11\\1.5\\7.5\\4\\8\\7\\12.5\\14.5\\8\\22\\18\\27\\31.5\\32.5\\26.5\\38\\30\\22.5\\28\\35\\26.5\\39.5\\33.5\\32\\36.5\\34.5\\28.5\\
30\\34\\34.5\\28\\22\\25.5\\32.5\\26.5\\27\\31.5\\24\\20\\16.5\\10.5\\9.5\\15\\6\\9.5\\9\\15\\5\\9.5\\5.5\\11.5\\1.5\\5.5\\10\\15.5\\20\\13.5\\27\\33\\32.5\\25\\38.5\\32.5\\31\\35\\28.5\\22\\29\\32.5\\35\\29\\29.5\\34\\42\\36\\
32\\24\\26\\31.5\\24\\17.5\\10.5\\6.5\\26\\30.5\\7.5\\13.5\\22\\16\\3\\8.5\\24\\27.5\\-2\\1\\26\\30.5\\10\\6\\21.5\\15.5\\6\\11.5\\22\\25.5\\-2.5\\0.5\\29\\21.5\\18.5\\14.5\\25\\29\\23\\18.5\\23.5\\15\\22\\28\\27\\31.5\\
}\snr

\pgfplotsset{
  mplaxis/.style={
    at={(2.5in,0.88in)}, anchor=south west,
    width=15.5in, height=6.16in, scale only axis,
    xmin=-0.654, xmax=33.464,
    tick align=outside,
    major tick length=3.5pt, minor tick length=2pt,
    major tick style={black, line width=0.8pt},
    minor tick style={black, line width=0.6pt},
    axis line style={line width=0.8pt},
    /pgf/number format/assume math mode=true,
    no markers,
  }
}

\begin{document}
\begin{tikzpicture}
\useasboundingbox (0,0) rectangle (20in,8in);
\begin{axis}[
  mplaxis,
  ymin=-131.4, ymax=-71.5,
  xtick={6,13,20,27},
  xticklabels={06.05.26,13.05.26,20.05.26,27.05.26},
  minor xtick={0,1,...,33},
  ytick={-130,-120,-110,-100,-90,-80},
  yticklabels={−130,−120,−110,−100,−90,−80},
  xtick pos=left, ytick pos=left,
  grid=major,
  major grid style={mplgrid, line width=0.8pt},
  title={A041},
  title style={font=\fontsize{12}{14.4}\selectfont, at={(axis description cs:0.5,1)}, anchor=south, inner sep=0pt, yshift=0pt},
  xlabel={\textit{Date}},
  xlabel style={at={(axis description cs:0.5,0)}, anchor=north, inner sep=0pt, yshift=-21pt},
  ylabel={\textit{signallevel [dBm]}},
  ylabel style={at={(axis description cs:-0.0419,0.5)}, anchor=center},
]
\addplot[color=blue, line width=1.5pt, line join=round] table[x expr=\coordindex/48+0.875, y index=0] {\sig};
\addplot[color=red, line width=1.5pt, line join=round] table[x expr=\coordindex/48+0.875, y index=0] {\noi};
\end{axis}
\begin{axis}[
  mplaxis,
  ymin=-4.9, ymax=49.0,
  axis x line=none, axis y line*=right,
  ytick={0,10,20,30,40},
  ylabel={\textit{SNR [dB]}},
  ylabel style={at={(axis description cs:1.0245,0.5)}, anchor=center},
]
\addplot[color=mplgreen, opacity=0.3, line width=1.5pt, dash pattern=on 1.5pt off 2.475pt] table[x expr=\coordindex/48+0.875, y index=0] {\snr};
\end{axis}
\end{tikzpicture}
\end{document}
